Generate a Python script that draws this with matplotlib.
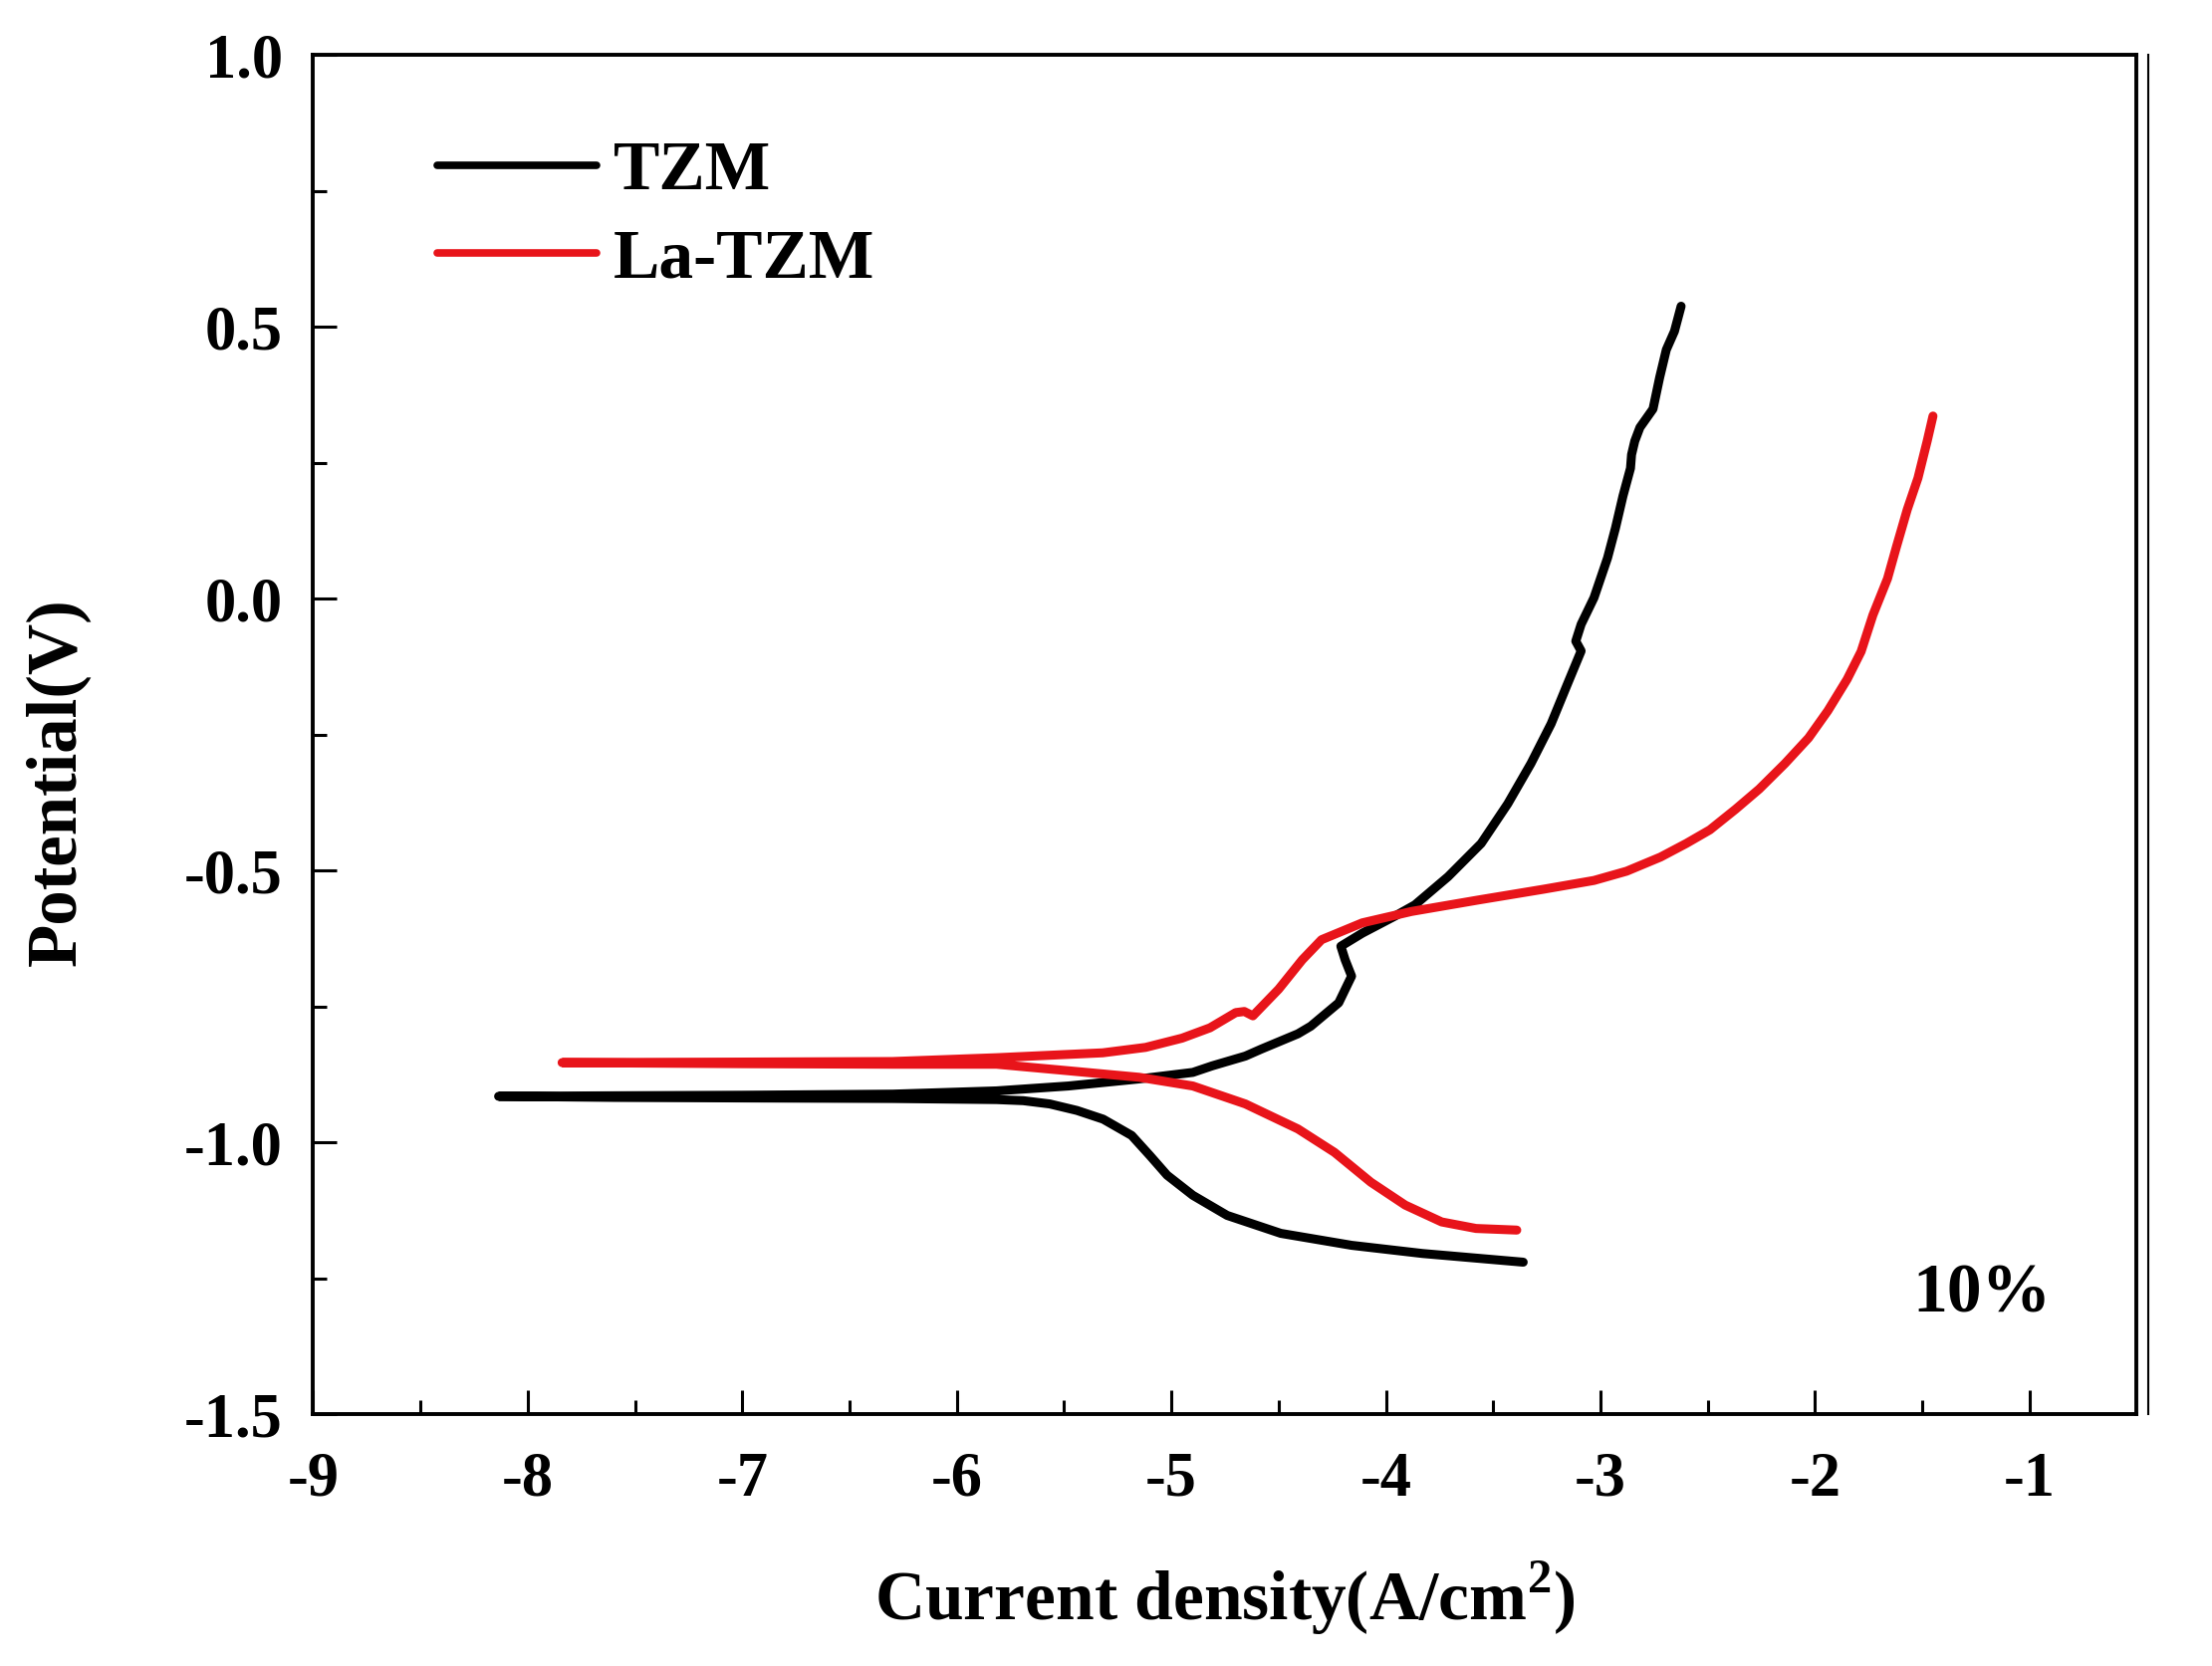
import matplotlib
matplotlib.use("Agg")
import matplotlib.pyplot as plt
from matplotlib.lines import Line2D
import numpy as np

plt.rcParams['font.family'] = ['Liberation Serif', 'DejaVu Serif']
plt.rcParams['font.weight'] = 'bold'
plt.rcParams['mathtext.fontset'] = 'custom'
plt.rcParams['mathtext.rm'] = 'Liberation Serif:bold'
plt.rcParams['mathtext.bf'] = 'Liberation Serif:bold'

# TZM: cathodic end -> corrosion potential -> anodic end
tzm_x = [-3.36, -3.83, -4.16, -4.49, -4.74, -4.90, -5.02, -5.10, -5.185, -5.318, -5.44, -5.567,
         -5.69, -5.815, -6.3, -7.0, -7.6, -8.136,
         -7.6, -7.0, -6.3, -5.815, -5.48, -5.15, -4.90, -4.81, -4.655, -4.58, -4.41, -4.35,
         -4.22, -4.16, -4.19, -4.21, -4.11, -3.96, -3.865, -3.71, -3.556, -3.432, -3.324, -3.23,
         -3.154, -3.09, -3.115, -3.09, -3.03, -2.967, -2.93, -2.895, -2.86, -2.855, -2.84, -2.816,
         -2.755, -2.724, -2.693, -2.655, -2.624]
tzm_y = [-1.220, -1.204, -1.189, -1.167, -1.134, -1.097, -1.06, -1.024, -0.987, -0.957, -0.941, -0.929,
         -0.923, -0.921, -0.919, -0.918, -0.917, -0.915,
         -0.914, -0.913, -0.911, -0.905, -0.896, -0.883, -0.871, -0.859, -0.841, -0.828, -0.800, -0.786,
         -0.743, -0.694, -0.664, -0.639, -0.615, -0.584, -0.563, -0.511, -0.450, -0.377, -0.303, -0.230,
         -0.157, -0.096, -0.078, -0.047, 0.002, 0.075, 0.13, 0.189, 0.24, 0.265, 0.29, 0.315,
         0.349, 0.407, 0.458, 0.492, 0.538]

# La-TZM
la_x = [-3.39, -3.58, -3.74, -3.91, -4.07, -4.24, -4.41, -4.655, -4.90, -5.15, -5.48, -5.815,
        -6.3, -7.0, -7.84,
        -7.0, -6.3, -5.815, -5.32, -5.12, -4.95, -4.82, -4.70, -4.66, -4.62, -4.50, -4.39,
        -4.30, -4.11, -3.88, -3.57, -3.263, -3.03, -2.878, -2.72, -2.60, -2.49, -2.37, -2.26,
        -2.14, -2.03, -1.94, -1.85, -1.785, -1.73, -1.662, -1.62, -1.57, -1.52, -1.477, -1.45]
la_y = [-1.161, -1.158, -1.146, -1.115, -1.073, -1.018, -0.975, -0.929, -0.896, -0.880, -0.868, -0.856,
        -0.856, -0.855, -0.853,
        -0.852, -0.851, -0.844, -0.835, -0.825, -0.808, -0.789, -0.761, -0.759, -0.767, -0.718, -0.664,
        -0.627, -0.596, -0.575, -0.554, -0.534, -0.518, -0.501, -0.475, -0.45, -0.425, -0.387, -0.35,
        -0.303, -0.256, -0.206, -0.148, -0.097, -0.03, 0.037, 0.096, 0.164, 0.222, 0.29, 0.336]

x_ticks = np.arange(-9, 0, 1)
y_ticks = [-1.5, -1.0, -0.5, 0.0, 0.5, 1.0]

fig = plt.figure(figsize=(22.21, 16.73), dpi=100)
ax = fig.add_axes([0.1416, 0.151, 0.8244, 0.816])

ax.plot(tzm_x, tzm_y, color='black', lw=6.5, solid_joinstyle='round', solid_capstyle='round', label='TZM')
ax.plot(la_x, la_y, color='#e8141a', lw=6.5, solid_joinstyle='round', solid_capstyle='round', label='La-TZM')

ax.set_xlim(-9, -0.5)
ax.set_ylim(-1.5, 1.0)
ax.set_xticks(x_ticks)
ax.set_xticklabels([str(v) for v in x_ticks])
ax.set_yticks(y_ticks)
ax.set_yticklabels(['%.1f' % v for v in y_ticks])
ax.set_xticks(np.arange(-8.5, -0.5, 1), minor=True)
ax.set_yticks(np.arange(-1.25, 1.0, 0.5), minor=True)

ax.tick_params(which='major', direction='in', length=17, width=2.2, labelsize=45)
ax.tick_params(which='minor', direction='in', length=10, width=2.2)
ax.tick_params(axis='x', pad=27)
ax.tick_params(axis='y', pad=22)
for s in ax.spines.values():
    s.set_linewidth(2.8)

ax.set_xlabel('Current density(A/cm$^{2}$)', fontsize=50, fontweight='bold')
ax.set_ylabel('Potential(V)', fontsize=51, fontweight='bold')
ax.xaxis.set_label_coords(0.5, -0.135)
ax.xaxis.label.set_va('center')
ax.yaxis.set_label_coords(-0.14, 0.465)
ax.yaxis.label.set_va('center')

leg = ax.legend(loc='upper left', bbox_to_anchor=(0.068, 0.937), frameon=False, fontsize=50,
                handlelength=2.3, handletextpad=0.25, labelspacing=0.35, borderpad=0, borderaxespad=0)
for h in leg.get_lines():
    h.set_linewidth(5.5)

ax.text(-1.22, -1.28, '10%', fontsize=50, fontweight='bold', ha='center', va='center')

fig.add_artist(Line2D([0.971, 0.971], [0.151, 0.967], transform=fig.transFigure, color='black', lw=1.5))

fig.savefig('out.png', dpi=100)
